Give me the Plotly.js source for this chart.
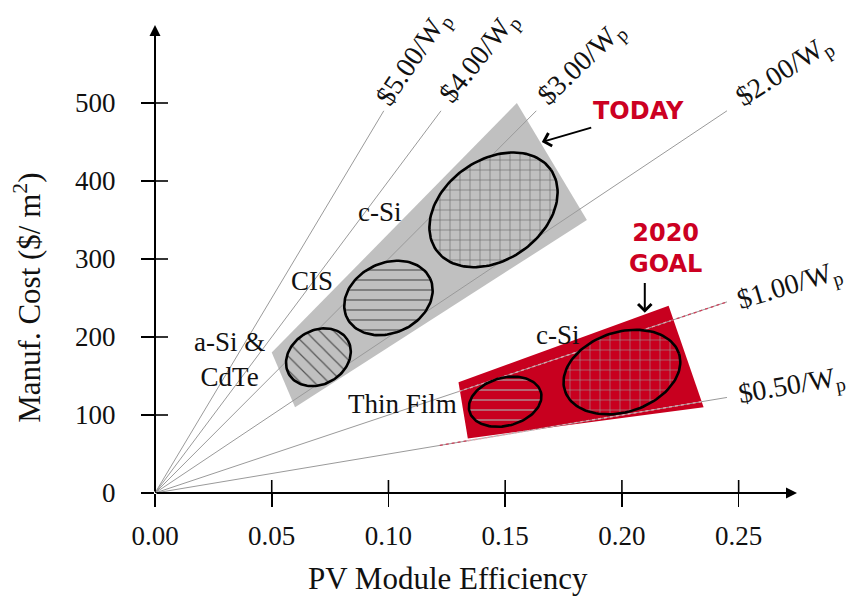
<!DOCTYPE html>
<html>
<head>
<meta charset="utf-8">
<script src="https://cdn.plot.ly/plotly-3.0.1.min.js"></script>
<style>html,body{margin:0;padding:0;background:#fff;}#chart{width:850px;height:597px;}</style>
</head>
<body>
<div id="chart"></div>
<script>
// ---------- data ----------
const prices = [5, 4, 3, 2, 1, 0.5];                 // $/Wp iso-price lines
const xTicks = [0, 0.05, 0.10, 0.15, 0.20, 0.25];
const yTicks = [0, 100, 200, 300, 400, 500];
const todayX = [0.155, 0.185, 0.060, 0.050];          // "TODAY" band
const todayY = [500, 350, 110, 180];
const goalX = [0.130, 0.220, 0.235, 0.134];           // "2020 GOAL" band
const goalY = [142, 240, 110, 70];
const techNames = ["a-Si & CdTe", "CIS", "c-Si", "Thin Film", "c-Si (2020)"];
const techEff = [0.070, 0.100, 0.145, 0.150, 0.200];  // ellipse centres
const techCost = [174, 250, 363, 117, 155];

// ---------- styling ----------
const SERIF = "Liberation Serif, Times New Roman, serif";
const SANS = "DejaVu Sans, Verdana, sans-serif";
const RED = "#c8001f";
const GRAY = "#c0c0c0";
const W = 850, H = 597, M = {l: 155, r: 53, t: 25, b: 104};
const XR = [0, 0.275], YR = [0, 600];
const KX = (W - M.l - M.r) / (XR[1] - XR[0]);
const KY = (H - M.t - M.b) / (YR[1] - YR[0]);

const ellipseStyle = [
  {a: 34, b: 27, ang: 30, shape: "\\", bg: GRAY, fg: "#555", size: 10},
  {a: 46, b: 35, ang: 25, shape: "-", bg: GRAY, fg: "#555", size: 10},
  {a: 70, b: 50, ang: 35, shape: "+", bg: GRAY, fg: "#666", size: 10},
  {a: 37, b: 24, ang: 15, shape: "-", bg: RED, fg: "#aaa", size: 10},
  {a: 60, b: 40, ang: 18, shape: "+", bg: RED, fg: "#999", size: 10}
];

const traces = [];
// bands
traces.push({x: todayX, y: todayY, type: "scatter", mode: "lines", fill: "toself",
  fillcolor: GRAY, line: {width: 0, color: GRAY}, hoverinfo: "skip"});
traces.push({x: goalX, y: goalY, type: "scatter", mode: "lines", fill: "toself",
  fillcolor: RED, line: {width: 0, color: RED}, hoverinfo: "skip"});

// iso-price lines
function lineEnd(p) { return Math.min(0.245, 490 / (1000 * p)); }
prices.forEach(p => {
  const xe = lineEnd(p);
  traces.push({x: [0, xe], y: [0, 1000 * p * xe], type: "scatter", mode: "lines",
    line: {color: "#9a9a9a", width: 1}, hoverinfo: "skip"});
});
// dotted overlays where the lines run through / next to the goal band
const overlay = [
  {p: 1, from: 0.130, to: 0.221, color: "#e6a3ad"},
  {p: 1, from: 0.221, to: 0.245, color: "#d0405a"},
  {p: 0.5, from: 0.122, to: 0.134, color: "#d0405a"},
  {p: 0.5, from: 0.134, to: 0.234, color: "#e6a3ad"}
];
overlay.forEach(o => {
  traces.push({x: [o.from, o.to], y: [1000 * o.p * o.from, 1000 * o.p * o.to], type: "scatter",
    mode: "lines", line: {color: o.color, width: 1.3, dash: "dot"}, hoverinfo: "skip"});
});

// technology ellipses
techEff.forEach((cx, i) => {
  const s = ellipseStyle[i], th = s.ang * Math.PI / 180;
  const xs = [], ys = [];
  for (let k = 0; k <= 120; k++) {
    const t = 2 * Math.PI * k / 120;
    const dx = s.a * Math.cos(th) * Math.cos(t) - s.b * Math.sin(th) * Math.sin(t);
    const dy = s.a * Math.sin(th) * Math.cos(t) + s.b * Math.cos(th) * Math.sin(t);
    xs.push(cx + dx / KX); ys.push(techCost[i] + dy / KY);
  }
  traces.push({x: xs, y: ys, type: "scatter", mode: "lines", fill: "toself", name: techNames[i],
    fillcolor: s.bg,
    fillpattern: {shape: s.shape, bgcolor: s.bg, fgcolor: s.fg, size: s.size, solidity: 0.12},
    line: {color: "#000", width: 2.6}, hoverinfo: "skip"});
});

// ---------- annotations ----------
const ann = [];
const priceLabelPos = [
  {x: 0.1109, y: 557, ang: -56}, {x: 0.1391, y: 558, ang: -52}, {x: 0.1828, y: 551, ang: -44},
  {x: 0.2697, y: 540, ang: -33}, {x: 0.2718, y: 265, ang: -17}, {x: 0.2727, y: 137, ang: -10}
];
prices.forEach((p, i) => {
  const L = priceLabelPos[i];
  ann.push({x: L.x, y: L.y, xref: "x", yref: "y", text: "$" + p.toFixed(2) + "/W<sub>p</sub>",
    showarrow: false, textangle: L.ang, font: {family: SERIF, size: 28, color: "#111"}});
});
const techLabels = [
  {t: "a-Si &amp;<br>CdTe", x: 0.0321, y: 171},
  {t: "CIS", x: 0.0672, y: 272},
  {t: "c-Si", x: 0.0963, y: 360},
  {t: "Thin Film", x: 0.1062, y: 114},
  {t: "c-Si", x: 0.1725, y: 203}
];
techLabels.forEach(L => ann.push({x: L.x, y: L.y, xref: "x", yref: "y", text: L.t, showarrow: false,
  font: {family: SERIF, size: 27, color: "#111"}}));
ann.push({x: 0.2072, y: 490, xref: "x", yref: "y", text: "<b>TODAY</b>", showarrow: false,
  font: {family: SANS, size: 24, color: "#cc0022"}});
ann.push({x: 0.2188, y: 313, xref: "x", yref: "y", text: "<b>2020<br>GOAL</b>", showarrow: false,
  font: {family: SANS, size: 24, color: "#cc0022"}});
// pointer arrows
ann.push({x: 0.1657, y: 450, ax: 0.1875, ay: 469, xref: "x", yref: "y", axref: "x", ayref: "y",
  text: "", showarrow: true, arrowhead: 4, arrowsize: 1.3, arrowwidth: 2, arrowcolor: "#000"});
ann.push({x: 0.2098, y: 231, ax: 0.2098, ay: 271, xref: "x", yref: "y", axref: "x", ayref: "y",
  text: "", showarrow: true, arrowhead: 4, arrowsize: 1.3, arrowwidth: 2, arrowcolor: "#000"});
// axis arrows
ann.push({x: XR[1], y: 0, ax: 0, ay: 0, xref: "x", yref: "y", axref: "x", ayref: "y",
  text: "", showarrow: true, arrowhead: 2, arrowsize: 1.1, arrowwidth: 2, arrowcolor: "#000"});
ann.push({x: 0, y: YR[1], ax: 0, ay: 0, xref: "x", yref: "y", axref: "x", ayref: "y",
  text: "", showarrow: true, arrowhead: 2, arrowsize: 1.1, arrowwidth: 2, arrowcolor: "#000"});
// axis titles
ann.push({x: 0.456, y: -0.182, xref: "paper", yref: "paper", xanchor: "center", yanchor: "middle",
  text: "PV Module Efficiency", showarrow: false, font: {family: SERIF, size: 31, color: "#111"}});
ann.push({x: -0.198, y: 0.417, xref: "paper", yref: "paper", xanchor: "center", yanchor: "middle",
  text: "Manuf. Cost ($/ m<sup>2</sup>)", showarrow: false, textangle: -90,
  font: {family: SERIF, size: 31, color: "#111"}});

// inner halves of the crossing ticks
const shapes = [];
xTicks.forEach(v => shapes.push({type: "line", xref: "x", yref: "y", ysizemode: "pixel", yanchor: 0,
  x0: v, x1: v, y0: 0, y1: 13, line: {color: "#000", width: 1.6}}));
yTicks.forEach(v => shapes.push({type: "line", xref: "x", yref: "y", xsizemode: "pixel", xanchor: 0,
  y0: v, y1: v, x0: 0, x1: 13, line: {color: "#000", width: 1.6}}));

const layout = {
  width: W, height: H, margin: M, showlegend: false,
  paper_bgcolor: "#fff", plot_bgcolor: "#fff",
  xaxis: {range: XR, tickvals: xTicks, ticktext: xTicks.map(v => v.toFixed(2)), ticks: "outside",
    ticklen: 13, tickwidth: 1.6, tickcolor: "#000", showgrid: false, zeroline: false, showline: false,
    ticklabelstandoff: 6, tickfont: {family: SERIF, size: 27, color: "#111"}, fixedrange: true},
  yaxis: {range: YR, tickvals: yTicks, ticktext: yTicks.map(String), ticks: "outside",
    ticklen: 13, tickwidth: 1.6, tickcolor: "#000", showgrid: false, zeroline: false, showline: false,
    ticklabelstandoff: 20, tickfont: {family: SERIF, size: 27, color: "#111"}, fixedrange: true},
  annotations: ann, shapes: shapes
};
Plotly.newPlot("chart", traces, layout, {staticPlot: true});
</script>
</body>
</html>
